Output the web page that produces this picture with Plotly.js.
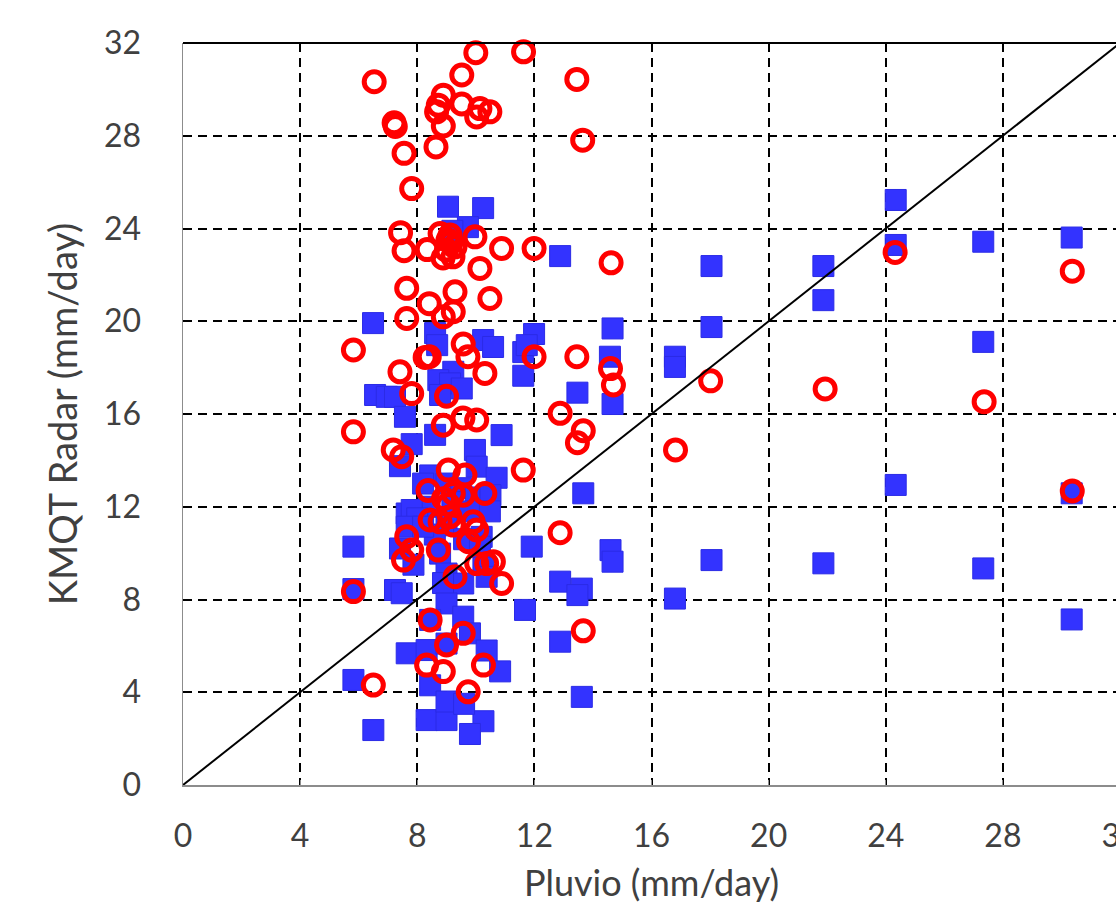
<!DOCTYPE html>
<html>
<head>
<meta charset="utf-8">
<script src="https://cdn.plot.ly/plotly-3.0.1.min.js"></script>
<style>html,body{margin:0;padding:0;overflow:hidden;background:#fff}</style>
</head>
<body>
<div id="chart"></div>
<script>
// Tick values / labels
const xTickVals = [0, 4, 8, 12, 16, 20, 24, 28, 32];
const yTickVals = [0, 4, 8, 12, 16, 20, 24, 28, 32];
const xTitle = "Pluvio (mm/day)";
const yTitle = "KMQT Radar (mm/day)";

// Blue squares series
const blueX = [9.05,10.25,9.73,9.2,12.88,6.49,8.61,10.25,11.99,11.62,10.59,8.68,11.62,9.23,8.72,9.12,9.52,8.78,6.56,6.96,
  7.24,7.58,7.81,7.41,8.61,10.88,9.97,10.03,10.71,8.44,8.2,9.0,9.5,10.0,10.5,8.4,9.2,9.8,10.48,7.64,
  7.81,8.0,9.0,9.6,8.6,10.2,7.64,8.2,5.82,5.82,7.24,7.47,7.41,7.87,8.78,9.0,9.57,10.26,10.14,8.88,
  9.0,8.44,9.57,7.64,8.32,9.0,9.8,10.37,10.83,8.44,8.32,9.0,10.26,9.8,9.0,9.6,5.82,6.5,11.91,11.68,
  12.88,13.62,13.47,12.88,13.62,13.67,14.6,14.67,16.8,18.05,14.67,14.58,14.67,13.47,16.8,16.8,18.05,18.05,21.87,21.87,
  21.87,24.34,24.34,24.34,27.33,27.33,27.33,30.35,30.35,30.35,11.74,10.37];
const blueY = [24.94,24.88,24.06,23.9,22.81,19.92,19.49,19.19,19.45,18.67,18.89,18.97,17.65,17.82,17.46,17.32,17.1,16.82,16.82,16.74,
  16.74,15.88,14.7,13.75,15.1,15.09,14.45,13.73,13.25,13.35,13.0,13.0,12.8,12.4,12.5,12.0,12.2,11.8,11.8,11.71,
  11.86,11.5,11.2,10.6,10.8,10.7,11.14,11.14,10.28,8.45,8.41,8.27,10.2,9.5,9.98,9.12,8.69,9.55,10.28,8.71,
  7.83,7.12,7.26,5.68,5.82,6.1,6.54,5.8,4.9,4.3,2.8,2.8,2.75,2.2,3.6,3.5,4.53,2.37,10.28,7.55,
  8.77,8.47,8.19,6.18,3.8,12.58,10.13,9.63,8.04,9.7,19.69,18.47,16.43,16.92,18.47,18.03,19.75,22.38,22.38,20.91,
  9.56,25.23,23.29,12.94,23.43,19.11,9.34,23.61,12.58,7.14,18.97,8.98];

// Red open circles series
const redX = [6.53,10.0,11.63,13.45,9.52,8.89,8.72,8.66,9.52,10.14,10.03,10.48,7.21,7.25,8.89,7.55,8.64,7.81,13.65,7.43,
  7.55,8.34,8.78,9.12,9.0,9.22,8.88,9.29,9.97,10.14,10.88,11.99,7.64,9.29,10.48,8.41,9.23,8.89,7.64,5.82,
  9.57,7.41,8.41,8.27,9.73,10.31,11.99,7.81,9.0,8.89,9.56,10.03,5.82,7.18,7.47,9.06,9.63,11.62,8.37,10.31,
  9.23,9.57,8.44,8.78,9.12,9.91,10.03,7.64,7.81,7.53,8.72,9.23,9.75,9.29,10.03,10.37,10.6,10.88,5.82,8.44,
  9.57,9.0,8.32,8.89,10.26,9.74,6.5,12.88,13.67,13.67,13.47,12.88,13.45,14.6,14.7,18.02,16.82,14.62,24.32,30.37,
  21.93,27.36,30.37,9.05,8.9,9.15,9.05];
const redY = [30.33,31.58,31.62,30.43,30.62,29.75,29.32,29.03,29.37,29.17,28.81,29.03,28.56,28.4,28.42,27.24,27.52,25.72,27.81,23.82,
  23.04,23.09,23.78,23.72,23.07,22.78,22.73,23.21,23.64,22.28,23.14,23.14,21.42,21.27,20.98,20.76,20.41,20.19,20.12,18.76,
  19.02,17.82,18.47,18.44,18.47,17.75,18.47,16.88,16.77,15.52,15.83,15.74,15.23,14.45,14.16,13.58,13.37,13.58,12.7,12.57,
  12.57,12.5,11.43,11.35,11.57,11.35,11.0,10.71,10.13,9.7,10.13,11.21,10.49,8.98,9.55,9.55,9.63,8.69,8.34,7.12,
  6.54,6.04,5.17,4.89,5.17,4.02,4.31,10.88,6.65,15.28,14.76,16.03,18.47,17.96,17.25,17.43,14.45,22.52,22.97,22.16,
  17.08,16.53,12.68,12.1,12.35,23.4,23.5];

// 1:1 reference line endpoints
const lineX = [0, 32];
const lineY = [0, 32];

const textColor = '#404040';
const fontFam = 'Lato, "Open Sans", sans-serif';

const traces = [
  {
    x: blueX, y: blueY, type: 'scatter', mode: 'markers', name: 'KMQT',
    marker: {symbol: 'square', size: 21, color: '#3333ff', line: {color: '#2b2be6', width: 1}},
    cliponaxis: false
  },
  {
    x: redX, y: redY, type: 'scatter', mode: 'markers', name: 'Pluvio',
    marker: {symbol: 'circle-open', size: 20, color: '#ff0000', line: {color: '#ff0000', width: 5}},
    cliponaxis: false
  },
  {
    x: lineX, y: lineY, type: 'scatter', mode: 'lines', name: '1:1',
    line: {color: '#000000', width: 2}
  }
];

const layout = {
  width: 1140, height: 921,
  margin: {l: 183, r: 20, t: 43, b: 136},
  paper_bgcolor: '#ffffff', plot_bgcolor: '#ffffff',
  showlegend: false,
  font: {family: fontFam, color: textColor},
  xaxis: {
    range: [0, 32], tickvals: xTickVals, ticktext: xTickVals.map(String),
    showgrid: true, gridcolor: '#000000', gridwidth: 2, griddash: '9px,6px',
    zeroline: false, showline: true, linecolor: '#8c8c8c', linewidth: 1.5,
    ticks: 'inside', ticklen: 5, tickcolor: '#8c8c8c',
    tickfont: {size: 32, color: textColor, family: fontFam},
    ticklabelstandoff: 22,
    title: {text: xTitle, font: {size: 36, color: textColor, family: fontFam}, standoff: 18},
    fixedrange: true
  },
  yaxis: {
    range: [0, 32], tickvals: yTickVals, ticktext: yTickVals.map(String),
    showgrid: true, gridcolor: '#000000', gridwidth: 2, griddash: '9px,6px',
    zeroline: false, showline: true, linecolor: '#8c8c8c', linewidth: 1.5,
    ticks: '',
    tickfont: {size: 32, color: textColor, family: fontFam},
    ticklabelstandoff: 34,
    title: {text: yTitle, font: {size: 38, color: textColor, family: fontFam}, standoff: 14},
    fixedrange: true
  },
  shapes: [
    {type: 'line', xref: 'paper', yref: 'paper', x0: 0, x1: 1, y0: 1, y1: 1,
     line: {color: '#000000', width: 2}}
  ]
};

Plotly.newPlot('chart', traces, layout, {displayModeBar: false, staticPlot: true});
</script>
</body>
</html>
